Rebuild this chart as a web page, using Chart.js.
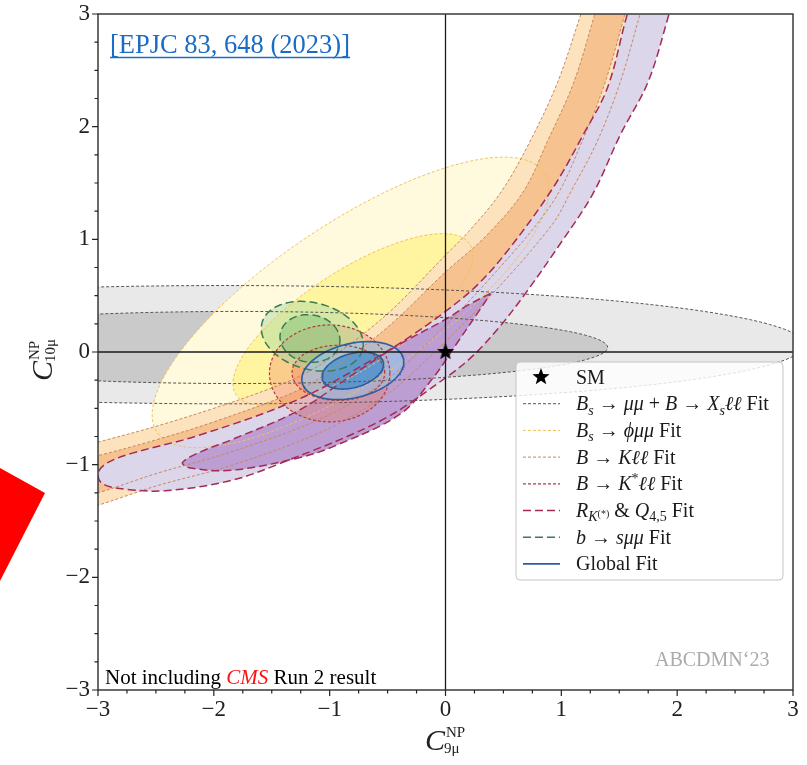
<!DOCTYPE html>
<html>
<head>
<meta charset="utf-8">
<script src="https://cdn.jsdelivr.net/npm/chart.js@4/dist/chart.umd.min.js"></script>
<style>
  body { margin: 0; background: #fff; }
</style>
</head>
<body>
<canvas id="chart" width="807" height="765"></canvas>
<script>
// axis range (C9 on x, C10 on y) and the labelled ticks
const axisMin = -3
const axisMax = 3
const minorStep = 0.25

// ellipse shaped contours:
// [centre C9, centre C10, semi-axis a, semi-axis b, tilt in degrees]
const bsmumuXsll2 = [-1.9, 0.065, 5.0, 0.525, 0]
const bsmumuXsll1 = [-1.8, 0.04, 3.2, 0.32, 0]
const bsphimumu2 = [-0.82, 0.44, 2.03, 0.69, 34.8]
const bsphimumu1 = [-0.80, 0.29, 1.21, 0.43, 33.7]
const bkstarll2 = [-1.0, -0.19, 0.52, 0.43, 0]
const bkstarll1 = [-0.925, -0.185, 0.40, 0.245, 0]
const bsmumu2 = [-1.15, 0.14, 0.45, 0.295, -16]
const bsmumu1 = [-1.17, 0.12, 0.26, 0.21, -10]
const global2 = [-0.80, -0.165, 0.45, 0.24, 14]
const global1 = [-0.80, -0.165, 0.274, 0.15, 17]

// banana shaped contours, traced as outlines [C9, C10]
const bkll2 = [
    [1.34, 3.5], [1.17, 3.0], [0.97, 2.40], [0.73, 1.87], [0.48, 1.42], [0.2, 1.07], [0, 0.86],
    [-0.5, 0.34], [-1.0, -0.06], [-1.27, -0.22], [-1.5, -0.32], [-2.0, -0.50], [-2.5, -0.66],
    [-3.0, -0.80], [-3.3, -0.88],
    [-3.3, -1.44], [-3.0, -1.36], [-2.5, -1.19], [-1.83, -1.00], [-1.03, -0.69], [-0.5, -0.37],
    [-0.145, -0.05], [0.39, 0.50], [0.92, 1.13], [1.08, 1.42], [1.31, 1.87], [1.51, 2.40],
    [1.68, 3.0], [1.82, 3.5]
]
const bkll1 = [
    [1.45, 3.5], [1.29, 3.0], [1.11, 2.40], [0.88, 1.87], [0.67, 1.42], [0.35, 1.03], [0, 0.71],
    [-0.5, 0.22], [-1.0, -0.17], [-1.27, -0.34], [-2.0, -0.62], [-2.5, -0.78], [-3.0, -0.92],
    [-3.3, -0.99],
    [-3.3, -1.32], [-3.0, -1.25], [-2.5, -1.08], [-1.83, -0.88], [-1.03, -0.57], [-0.5, -0.24],
    [-0.145, 0.09], [0.39, 0.66], [0.92, 1.32], [1.18, 1.87], [1.38, 2.40], [1.55, 3.0], [1.69, 3.5]
]
const rkq2 = [
    [1.73, 3.5], [1.57, 3.0], [1.40, 2.35], [1.19, 1.93], [0.93, 1.46], [0.56, 0.93], [0.28, 0.60],
    [0, 0.36], [-0.3, 0.14], [-0.6, -0.05], [-1.27, -0.42], [-2.13, -0.74], [-2.71, -0.90],
    [-2.93, -0.99], [-3.0, -1.08],
    [-2.96, -1.17], [-2.75, -1.22], [-2.40, -1.23], [-1.85, -1.14], [-1.43, -0.99], [-0.56, -0.61],
    [0, -0.23], [0.24, -0.03], [0.48, 0.24], [0.69, 0.52], [0.97, 0.93], [1.27, 1.40], [1.51, 1.93],
    [1.75, 2.40], [1.93, 3.0], [2.07, 3.5]
]
const rkq1 = [
    [0.39, 0.52], [0.2, 0.42], [0, 0.29], [-0.41, 0.06], [-0.8, -0.2], [-1.27, -0.52], [-1.85, -0.78],
    [-2.1, -0.88], [-2.27, -0.98],
    [-2.2, -1.03], [-1.85, -1.05], [-1.27, -0.94], [-0.97, -0.84], [-0.39, -0.55], [-0.1, -0.22],
    [0.1, 0.08], [0.3, 0.38]
]

// Standard Model point
const smPoint = [0, 0]

// legend text, as pieces: i italic, r roman, si/sr subscript, sup superscript, ss small sub-superscript
const legendLabels = [
    [['r', 'SM']],
    [['i', 'B'], ['si', 's'], ['r', ' \u2192 '], ['i', '\u03bc\u03bc'], ['r', ' + '], ['i', 'B'], ['r', ' \u2192 '], ['i', 'X'], ['si', 's'], ['i', '\u2113\u2113'], ['r', ' Fit']],
    [['i', 'B'], ['si', 's'], ['r', ' \u2192 '], ['i', '\u03d5\u03bc\u03bc'], ['r', ' Fit']],
    [['i', 'B'], ['r', ' \u2192 '], ['i', 'K\u2113\u2113'], ['r', ' Fit']],
    [['i', 'B'], ['r', ' \u2192 '], ['i', 'K'], ['sup', '*'], ['i', '\u2113\u2113'], ['r', ' Fit']],
    [['i', 'R'], ['si', 'K'], ['ss', '(*)'], ['r', ' & '], ['i', 'Q'], ['sr', '4,5'], ['r', ' Fit']],
    [['i', 'b'], ['r', ' \u2192 '], ['i', 's\u03bc\u03bc'], ['r', ' Fit']],
    [['r', 'Global Fit']]
]
const legendKeys = ['sm', 'bsmumuXsll', 'bsphimumu', 'bkll', 'bkstarll', 'rkq', 'bsmumu', 'global']

const xTitle = [['C', 'C'], ['sup', 'NP'], ['sub', '9\u03bc']]
const yTitle = [['C', 'C'], ['sup', 'NP'], ['sub', '10\u03bc']]
const refText = '[EPJC 83, 648 (2023)]'
const noteText = [['r', 'Not including '], ['red', 'CMS'], ['r', ' Run 2 result']]
const creditText = 'ABCDMN\u201823'

// look of each fit
const fitStyles = {
    bsmumuXsll: { fill2: '#e9e9e9', fill1: '#cacaca', line: '#555555', dash: [3, 2], width: 1 },
    bsphimumu: { fill2: '#fffadd', fill1: '#fff4a0', line: '#eec35a', dash: [3, 2], width: 1 },
    bkll: { fill2: '#fde3bd', fill1: '#f6c28f', line: '#c8875e', dash: [3, 2], width: 1 },
    bkstarll: { fill2: 'rgba(240,125,95,0.32)', fill1: 'rgba(235,110,80,0.32)', line: '#b23a3e', dash: [3, 2], width: 1.2 },
    rkq: { fill2: '#dcd6ea', fill1: '#bc9ed2', line: '#a52a55', dash: [8, 4], width: 1.5 },
    bsmumu: { fill2: 'rgba(165,218,165,0.45)', fill1: 'rgba(120,190,120,0.45)', line: '#3b7b52', dash: [8, 4], width: 1.5 },
    global: { fill2: 'rgba(150,195,235,0.65)', fill1: 'rgba(60,140,205,0.7)', line: '#2f5d9c', dash: [], width: 1.6 }
}

const serif = '"Liberation Serif", "DejaVu Serif", serif'

function outline(points) {
    return points.concat([points[0]]).map(p => ({ x: p[0], y: p[1] }))
}

function ellipseOutline(e) {
    const pts = []
    const tilt = e[4] * Math.PI / 180
    for (let i = 0; i < 144; i++) {
        const s = 2 * Math.PI * i / 144
        const u = e[2] * Math.cos(s)
        const v = e[3] * Math.sin(s)
        pts.push([e[0] + u * Math.cos(tilt) - v * Math.sin(tilt), e[1] + u * Math.sin(tilt) + v * Math.cos(tilt)])
    }
    return outline(pts)
}

function contour(data, fillColor, st, order, tension) {
    return {
        data: data,
        showLine: true,
        fill: 'shape',
        backgroundColor: fillColor,
        borderColor: st.line,
        borderWidth: st.width,
        borderDash: st.dash,
        pointRadius: 0,
        pointHoverRadius: 0,
        tension: tension,
        order: order,
        clip: 0
    }
}

// filled star used for the SM point
function makeStar(r) {
    const c = document.createElement('canvas')
    c.width = 2 * r + 2
    c.height = 2 * r + 2
    const g = c.getContext('2d')
    g.beginPath()
    for (let i = 0; i < 10; i++) {
        const rad = i % 2 === 0 ? r : r * 0.42
        const a = -Math.PI / 2 + i * Math.PI / 5
        g.lineTo(r + 1 + rad * Math.cos(a), r + 1 + rad * Math.sin(a))
    }
    g.closePath()
    g.fillStyle = '#000'
    g.fill()
    return c
}
const starMark = makeStar(9)

const S = fitStyles
const datasets = [
    { data: [{ x: smPoint[0], y: smPoint[1] }], pointStyle: starMark, pointRadius: 9, order: 0, clip: false },
    { data: [{ x: axisMin, y: 0 }, { x: axisMax, y: 0 }], showLine: true, borderColor: '#1a1a1a', borderWidth: 1.3, pointRadius: 0, order: 1 },
    { data: [{ x: 0, y: axisMin }, { x: 0, y: axisMax }], showLine: true, borderColor: '#1a1a1a', borderWidth: 1.3, pointRadius: 0, order: 1 },
    contour(ellipseOutline(global1), S.global.fill1, S.global, 2, 0),
    contour(ellipseOutline(global2), S.global.fill2, S.global, 3, 0),
    contour(ellipseOutline(bsmumu1), S.bsmumu.fill1, S.bsmumu, 4, 0),
    contour(ellipseOutline(bsmumu2), S.bsmumu.fill2, S.bsmumu, 5, 0),
    contour(ellipseOutline(bkstarll1), S.bkstarll.fill1, S.bkstarll, 6, 0),
    contour(ellipseOutline(bkstarll2), S.bkstarll.fill2, S.bkstarll, 7, 0),
    contour(outline(rkq1), S.rkq.fill1, S.rkq, 8, 0.35),
    contour(outline(rkq2), S.rkq.fill2, S.rkq, 9, 0.35),
    contour(outline(bkll1), S.bkll.fill1, S.bkll, 10, 0.35),
    contour(outline(bkll2), S.bkll.fill2, S.bkll, 11, 0.35),
    contour(ellipseOutline(bsphimumu1), S.bsphimumu.fill1, S.bsphimumu, 12, 0),
    contour(ellipseOutline(bsphimumu2), S.bsphimumu.fill2, S.bsphimumu, 13, 0),
    contour(ellipseOutline(bsmumuXsll1), S.bsmumuXsll.fill1, S.bsmumuXsll, 14, 0),
    contour(ellipseOutline(bsmumuXsll2), S.bsmumuXsll.fill2, S.bsmumuXsll, 15, 0)
]

// draw a run of math pieces on one baseline, returns end x
function drawPieces(ctx, x, y, pieces, size) {
    const base = ctx.fillStyle
    pieces.forEach(p => {
        let fs = size, dy = 0, style = ''
        ctx.fillStyle = base
        if (p[0] === 'i') style = 'italic '
        if (p[0] === 'si') { style = 'italic '; fs = size * 0.7; dy = size * 0.22 }
        if (p[0] === 'sr') { fs = size * 0.7; dy = size * 0.22 }
        if (p[0] === 'sup') { fs = size * 0.7; dy = -size * 0.38 }
        if (p[0] === 'ss') { fs = size * 0.5; dy = size * 0.02 }
        if (p[0] === 'red') { style = 'italic '; ctx.fillStyle = '#ff1010' }
        ctx.font = style + fs + 'px ' + serif
        ctx.fillText(p[1], x, y + dy)
        x += ctx.measureText(p[1]).width
    })
    ctx.fillStyle = base
    return x
}

function drawTitle(ctx, x, y, pieces) {
    ctx.fillStyle = '#222'
    ctx.textBaseline = 'alphabetic'
    ctx.textAlign = 'left'
    ctx.font = 'italic 30px ' + serif
    const cw = ctx.measureText('C').width
    ctx.fillText('C', x, y)
    ctx.font = '15px ' + serif
    ctx.fillText(pieces[1][1], x + cw + 1, y - 13)
    ctx.font = '15px ' + serif
    ctx.fillText(pieces[2][1], x + cw - 1, y + 3)
}

const decorations = {
    id: 'decorations',
    afterDraw(chart) {
        const ctx = chart.ctx
        const area = chart.chartArea
        const xs = chart.scales.x
        const ys = chart.scales.y
        ctx.save()

        // frame
        ctx.strokeStyle = '#3a3a3a'
        ctx.lineWidth = 1.5
        ctx.strokeRect(area.left, area.top, area.right - area.left, area.bottom - area.top)

        // outward ticks, major on integers
        ctx.lineWidth = 1.2
        ctx.strokeStyle = '#222'
        for (let v = axisMin; v <= axisMax + 1e-9; v += minorStep) {
            const major = Math.abs(v - Math.round(v)) < 1e-9
            const len = major ? 6 : 3.5
            const px = xs.getPixelForValue(v)
            const py = ys.getPixelForValue(v)
            ctx.beginPath()
            ctx.moveTo(px, area.bottom)
            ctx.lineTo(px, area.bottom + len)
            ctx.moveTo(area.left, py)
            ctx.lineTo(area.left - len, py)
            ctx.stroke()
        }

        // axis titles
        drawTitle(ctx, 425, 750, xTitle)
        ctx.save()
        ctx.translate(52, 381)
        ctx.rotate(-Math.PI / 2)
        drawTitle(ctx, 0, 0, yTitle)
        ctx.restore()

        // reference and notes
        ctx.textAlign = 'left'
        ctx.textBaseline = 'alphabetic'
        ctx.font = '26.5px ' + serif
        ctx.fillStyle = '#1b6cc4'
        ctx.fillText(refText, 110, 53)
        const rw = ctx.measureText(refText).width
        ctx.strokeStyle = '#1b6cc4'
        ctx.lineWidth = 1.3
        ctx.beginPath()
        ctx.moveTo(110, 57.5)
        ctx.lineTo(110 + rw, 57.5)
        ctx.stroke()

        ctx.fillStyle = '#000'
        drawPieces(ctx, 105, 684, noteText, 21)

        ctx.font = '20px ' + serif
        ctx.fillStyle = '#ababab'
        ctx.fillText(creditText, 655, 666)

        // legend
        const lx = 516, ly = 362, lw = 267, lh = 218
        ctx.beginPath()
        ctx.roundRect(lx, ly, lw, lh, 4)
        ctx.fillStyle = 'rgba(255,255,255,0.82)'
        ctx.fill()
        ctx.strokeStyle = '#c4c4c4'
        ctx.lineWidth = 1
        ctx.stroke()
        legendLabels.forEach((lab, i) => {
            const cy = 377 + i * 26.7
            const key = legendKeys[i]
            if (key === 'sm') {
                ctx.drawImage(starMark, 541 - starMark.width / 2, cy - starMark.height / 2)
            } else {
                const st = fitStyles[key]
                ctx.strokeStyle = st.line
                ctx.lineWidth = st.width
                ctx.setLineDash(st.dash)
                ctx.beginPath()
                ctx.moveTo(523, cy)
                ctx.lineTo(560, cy)
                ctx.stroke()
                ctx.setLineDash([])
            }
            ctx.fillStyle = '#1a1a1a'
            ctx.textBaseline = 'alphabetic'
            drawPieces(ctx, 576, cy + 6.5, lab, 20)
        })

        // red marker cut at the left edge of the slide
        ctx.beginPath()
        ctx.moveTo(0, 468)
        ctx.lineTo(45, 493)
        ctx.lineTo(0, 581)
        ctx.closePath()
        ctx.fillStyle = '#ff0000'
        ctx.fill()

        ctx.restore()
    }
}

function tickText(v) {
    if (Math.abs(v - Math.round(v)) > 1e-9) return ''
    return v < 0 ? '\u2212' + Math.abs(v) : String(v)
}

new Chart(document.getElementById('chart'), {
    type: 'scatter',
    data: { datasets: datasets },
    options: {
        responsive: false,
        animation: false,
        devicePixelRatio: 1,
        events: [],
        layout: { padding: { top: 14, right: 14, left: 0, bottom: 0 } },
        elements: { line: { capBezierPoints: false } },
        plugins: {
            legend: { display: false },
            tooltip: { enabled: false },
            filler: { drawTime: 'beforeDatasetsDraw' }
        },
        scales: {
            x: {
                type: 'linear', min: axisMin, max: axisMax,
                grid: { display: false, drawTicks: false },
                border: { display: false },
                ticks: { stepSize: minorStep, autoSkip: false, maxRotation: 0, padding: 6, color: '#222', font: { family: serif, size: 23 }, callback: tickText },
                afterFit(scale) { scale.height = 75 }
            },
            y: {
                type: 'linear', min: axisMin, max: axisMax,
                grid: { display: false, drawTicks: false },
                border: { display: false },
                ticks: { stepSize: minorStep, autoSkip: false, padding: 8, color: '#222', font: { family: serif, size: 23, lineHeight: 0.4 }, callback: tickText },
                afterFit(scale) { scale.width = 98 }
            }
        }
    },
    plugins: [decorations]
})
</script>
</body>
</html>
